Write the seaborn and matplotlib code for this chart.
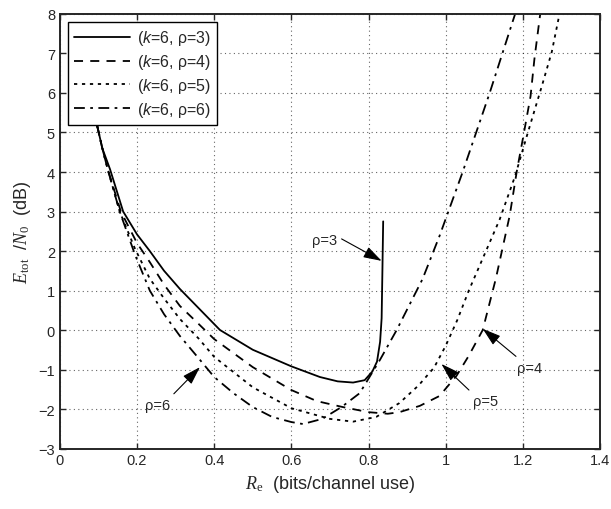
import matplotlib
matplotlib.use("Agg")
import matplotlib.pyplot as plt
import seaborn as sns

# --- values ---
rate_k6_r3 = [0.096, 0.11, 0.13, 0.164, 0.2, 0.233, 0.27, 0.311, 0.36, 0.415,
              0.5, 0.6, 0.674, 0.72, 0.76, 0.79, 0.81, 0.822, 0.83, 0.834, 0.836, 0.838]
ebno_k6_r3 = [5.2, 4.6, 4.07, 3.0, 2.42, 2.0, 1.5, 1.04, 0.55, 0.0,
              -0.5, -0.92, -1.19, -1.3, -1.33, -1.27, -1.05, -0.8, -0.3, 0.3, 1.5, 2.75]

rate_k6_r4 = [0.096, 0.11, 0.124, 0.158, 0.2, 0.233, 0.27, 0.311, 0.36, 0.4,
              0.5, 0.6, 0.666, 0.733, 0.8, 0.85, 0.88, 0.933, 0.984, 1.028,
              1.06, 1.096, 1.13, 1.166, 1.184, 1.2, 1.22, 1.23, 1.245]
ebno_k6_r4 = [5.2, 4.6, 4.07, 3.0, 2.2, 1.72, 1.15, 0.61, 0.15, -0.23,
              -0.94, -1.52, -1.8, -1.95, -2.08, -2.12, -2.08, -1.92, -1.67, -1.16,
              -0.65, 0.0, 1.3, 2.9, 4.0, 4.84, 5.92, 6.86, 8.0]

rate_k6_r5 = [0.096, 0.11, 0.124, 0.155, 0.195, 0.233, 0.27, 0.311, 0.36, 0.4,
              0.5, 0.6, 0.7, 0.76, 0.82, 0.88, 0.93, 0.97, 1.0, 1.03,
              1.06, 1.1, 1.14, 1.18, 1.21, 1.25, 1.275, 1.295]
ebno_k6_r5 = [5.2, 4.6, 4.07, 3.0, 2.05, 1.3, 0.8, 0.28, -0.22, -0.68,
              -1.45, -1.98, -2.25, -2.32, -2.2, -1.85, -1.4, -0.95, -0.4, 0.25,
              1.0, 1.9, 2.8, 3.9, 4.9, 6.2, 7.04, 8.0]

rate_k6_r6 = [0.096, 0.11, 0.124, 0.155, 0.195, 0.233, 0.27, 0.311, 0.36, 0.4,
              0.45, 0.5, 0.55, 0.6, 0.63, 0.68, 0.73, 0.777, 0.83, 0.873,
              0.94, 0.984, 1.044, 1.114, 1.174, 1.18]
ebno_k6_r6 = [5.2, 4.6, 4.07, 3.0, 1.9, 1.0, 0.4, -0.15, -0.72, -1.19,
              -1.6, -1.95, -2.2, -2.33, -2.38, -2.25, -1.95, -1.6, -0.75, 0.0,
              1.29, 2.38, 4.0, 6.0, 7.82, 8.0]

labels = [r"($\mathsf{k}$=6, ρ=3)", r"($\mathsf{k}$=6, ρ=4)",
          r"($\mathsf{k}$=6, ρ=5)", r"($\mathsf{k}$=6, ρ=6)"]

x_ticks = [0, 0.2, 0.4, 0.6, 0.8, 1, 1.2, 1.4]
x_tick_labels = ["0", "0.2", "0.4", "0.6", "0.8", "1", "1.2", "1.4"]
y_ticks = [-3, -2, -1, 0, 1, 2, 3, 4, 5, 6, 7, 8]

# annotation text, text position, arrow tip, where on the text the arrow starts
notes = [
    ("ρ=3", (0.686, 2.28), (0.834, 1.75), (1.0, 0.75)),
    ("ρ=4", (1.218, -0.95), (1.096, 0.03), (0.15, 1.0)),
    ("ρ=5", (1.104, -1.8), (0.989, -0.86), (0.0, 1.0)),
    ("ρ=6", (0.252, -1.9), (0.363, -0.94), (1.0, 1.0)),
]


def setup_plot_style():
    sns.set_style("ticks")
    plt.rcParams.update({
        "font.family": ["Liberation Sans", "DejaVu Sans"],
        "mathtext.fontset": "custom",
        "mathtext.rm": "Liberation Serif",
        "mathtext.it": "Liberation Serif:italic",
        "mathtext.sf": "Liberation Sans:italic",
        "xtick.direction": "in",
        "ytick.direction": "in",
        "xtick.labelsize": 10.5,
        "ytick.labelsize": 10.5,
        "axes.linewidth": 1.4,
    })


def main():
    setup_plot_style()
    fig = plt.figure(figsize=(6.11, 5.10), dpi=100)
    ax = fig.add_axes([0.098, 0.1186, 0.884, 0.852])

    series = [
        (rate_k6_r3, ebno_k6_r3, None),
        (rate_k6_r4, ebno_k6_r4, (5, 4)),
        (rate_k6_r5, ebno_k6_r5, (1.8, 2.6)),
        (rate_k6_r6, ebno_k6_r6, (6, 3, 1.5, 3)),
    ]
    for (xs, ys, dash), lab in zip(series, labels):
        sns.lineplot(x=xs, y=ys, ax=ax, sort=False, estimator=None,
                     color="black", lw=1.3, label=lab)
        if dash is not None:
            ax.lines[-1].set_dashes(dash)

    for txt, xy_text, xy_tip, rp in notes:
        ax.annotate(txt, xy=xy_tip, xytext=xy_text, fontsize=10.5,
                    ha="center", va="center",
                    arrowprops=dict(arrowstyle="-|>,head_length=0.7,head_width=0.22",
                                    color="black", lw=0.8, mutation_scale=16,
                                    shrinkA=1, shrinkB=0, relpos=rp))

    ax.set_xlim(0, 1.4)
    ax.set_ylim(-3, 8)
    ax.set_xticks(x_ticks)
    ax.set_xticklabels(x_tick_labels)
    ax.set_yticks(y_ticks)
    ax.grid(True, linestyle=(0, (1, 3)), color="black", lw=0.8, alpha=0.6)
    for side in ["top", "right"]:
        ax.spines[side].set_visible(True)
    ax.tick_params(top=True, right=True, length=4, width=1)

    ax.set_xlabel(r"$R_{\rm e}$  (bits/channel use)", fontsize=13, labelpad=4)
    ax.set_ylabel(r"$E_{\rm tot}$  /$N_0$  (dB)", fontsize=13, labelpad=4)

    leg = ax.legend(loc="upper left", fontsize=11.5, frameon=True, fancybox=False,
                    edgecolor="black", framealpha=1, handlelength=3.5,
                    borderaxespad=0.5, labelspacing=0.3, borderpad=0.4,
                    handletextpad=0.4)
    leg.get_frame().set_linewidth(1.0)

    fig.savefig("out.png", dpi=100)
    plt.close(fig)


if __name__ == "__main__":
    main()
